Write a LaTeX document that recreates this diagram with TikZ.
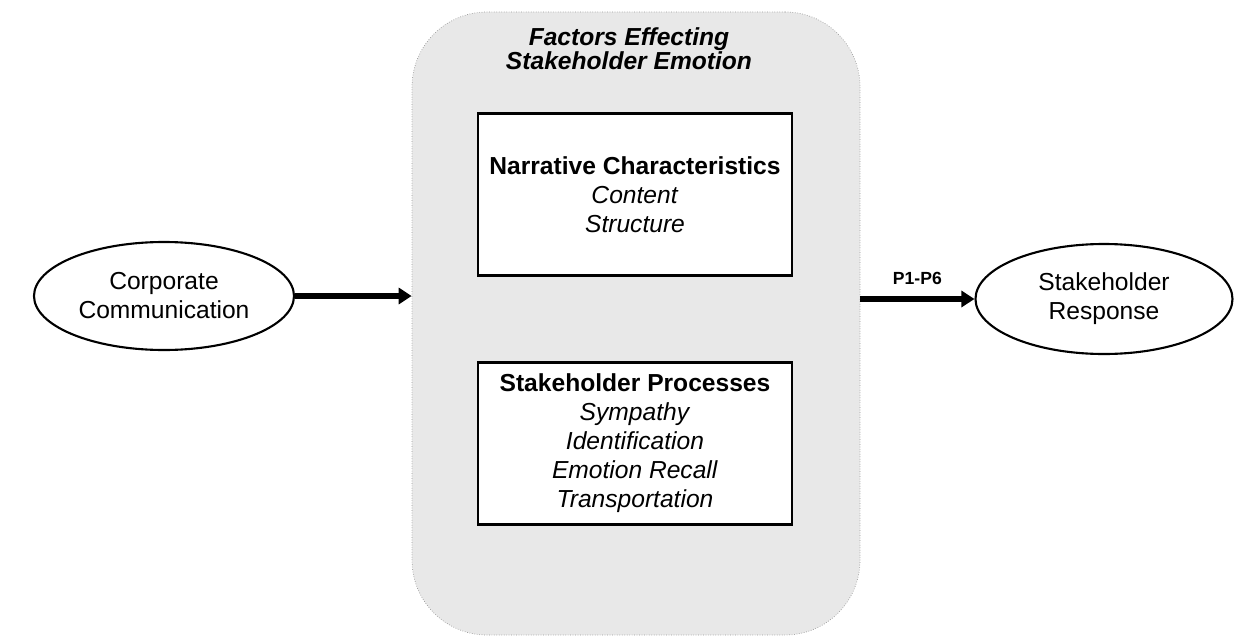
\documentclass[tikz,border=0pt]{standalone}
\usepackage{fontspec}
\setmainfont{Liberation Sans}
\usetikzlibrary{shapes.geometric,arrows.meta}
\definecolor{panelgray}{HTML}{E8E8E8}
\definecolor{panelline}{HTML}{9A9A9A}
\begin{document}
\begin{tikzpicture}[
    every node/.style={font=\fontsize{14pt}{16.5pt}\selectfont, align=center},
    actor/.style={draw, ellipse, line width=1.2pt, minimum width=5.2cm, minimum height=2.16cm},
    factorbox/.style={draw, fill=white, line width=1.2pt, minimum width=6.28cm, minimum height=3.24cm},
    flow/.style={line width=3.6pt, -{Triangle[length=0.26cm,width=0.32cm]}}
  ]
        \path[use as bounding box] (0, 0) rectangle (25.02, -12.76);
        % shaded panel with the two groups of factors
        \node[fill=panelgray, draw=panelline, densely dotted, rounded corners=1.5cm,
              minimum width=8.96cm, minimum height=12.46cm] at (12.72,-6.47) (factors) {};
        \node[font=\fontsize{14pt}{13.5pt}\selectfont\bfseries\itshape] at (12.58,-0.98) (title)
              {Factors Effecting\\Stakeholder Emotion};
        \node[factorbox] at (12.7,-3.89) (narr)
              {\textbf{Narrative Characteristics}\\\textit{Content}\\\textit{Structure}};
        \node[factorbox] at (12.7,-8.87) (proc)
              {\textbf{Stakeholder Processes}\\\textit{Sympathy}\\\textit{Identification}\\
               \textit{Emotion Recall}\\\textit{Transportation}};
        % input and outcome
        \node[actor] at (3.28,-5.92) (cc) {Corporate\\Communication};
        \node[actor, minimum width=5.14cm, minimum height=2.2cm] at (22.08,-5.98) (sr)
              {Stakeholder\\Response};
        \path[draw,flow] (cc.east) -- (cc.east -| factors.west);
        \path[draw,flow] (factors.east |- sr) -- node[above=3pt, font=\fontsize{10pt}{12pt}\selectfont\bfseries] (props) {P1-P6} (sr.west);
      \end{tikzpicture}
\end{document}
